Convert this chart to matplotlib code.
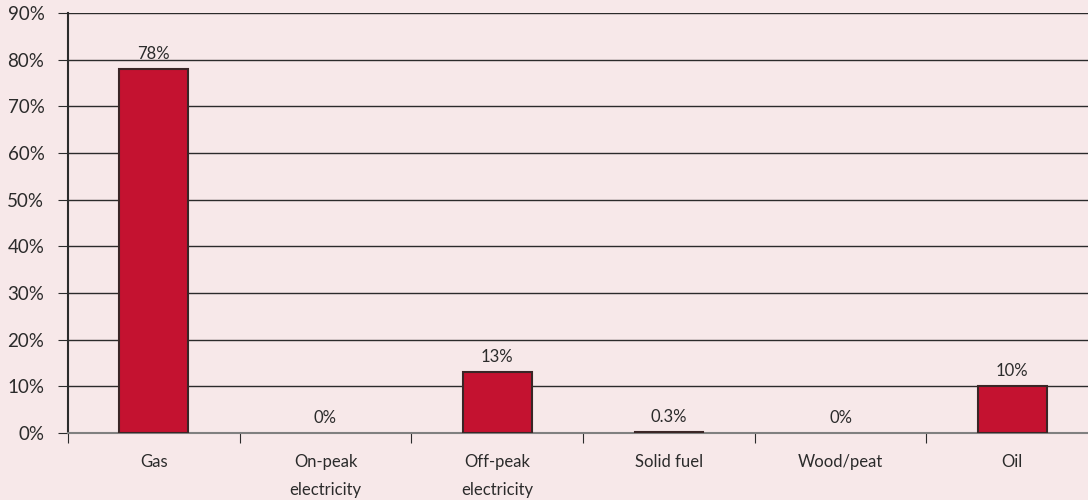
import numpy as np
import matplotlib.pyplot as plt
from matplotlib.ticker import FixedLocator, FuncFormatter

categories = ["Gas", "On-peak\nelectricity", "Off-peak\nelectricity", "Solid fuel", "Wood/peat", "Oil"]
values = [78, 0, 13, 0.3, 0, 10]
labels = ["78%", "0%", "13%", "0.3%", "0%", "10%"]

bg = "#f7e8e9"
ink = "#2b2b2b"
plt.rcParams["font.family"] = ["Lato", "DejaVu Sans"]

fig = plt.figure(figsize=(10.88, 5), dpi=100, facecolor=bg)
ax = fig.add_axes([68 / 1088, 67 / 500, 1030 / 1088, 420 / 500], facecolor=bg)

x = np.arange(len(categories))
# zero-valued bars carry no outline in the original
edge_w = [1.5 if v > 0 else 0 for v in values]
ax.bar(x, values, width=0.4, color="#c41230", edgecolor="#3a2626", linewidth=edge_w, zorder=3)

for xi, v, lab in zip(x, values, labels):
    ax.annotate(lab, (xi, v), xytext=(0, 5), textcoords="offset points",
                ha="center", va="bottom", fontsize=12, color=ink)

ax.set_xlim(-0.5, len(categories) - 0.5)
ax.set_ylim(0, 90)
ax.set_yticks(np.arange(0, 91, 10))
ax.yaxis.set_major_formatter(FuncFormatter(lambda v, p: f"{v:.0f}%"))
ax.yaxis.grid(True, color=ink, linewidth=1)
ax.set_axisbelow(True)

ax.xaxis.set_major_locator(FixedLocator(np.arange(-0.5, len(categories), 1)))
ax.xaxis.set_minor_locator(FixedLocator(x))
ax.set_xticklabels([])
ax.set_xticklabels(categories, minor=True)
ax.tick_params(axis="x", which="major", length=7, color=ink)
ax.tick_params(axis="x", which="minor", length=0, pad=15, labelsize=12, labelcolor=ink)
for t in ax.get_xticklabels(minor=True):
    t.set_linespacing(1.9)
    t.set_va("top")
ax.tick_params(axis="y", length=7, color=ink, labelsize=13.5, labelcolor=ink, pad=10)

for s in ["top", "right"]:
    ax.spines[s].set_visible(False)
ax.spines["left"].set_color(ink)
ax.spines["left"].set_linewidth(1.5)
ax.spines["bottom"].set_color("#808080")
ax.spines["bottom"].set_linewidth(1.5)

fig.savefig("out.png", dpi=100, facecolor=bg)
